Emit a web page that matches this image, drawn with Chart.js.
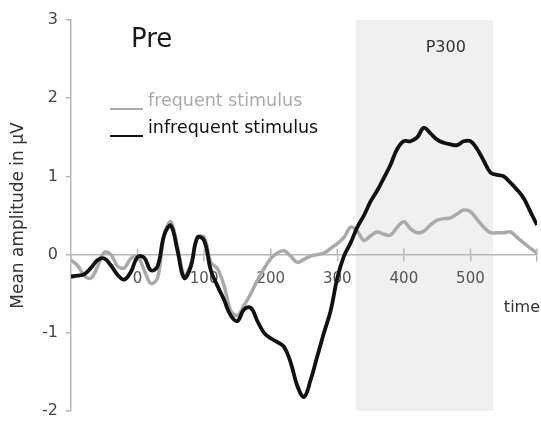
<!DOCTYPE html>
<html>
<head>
<meta charset="utf-8">
<script src="https://cdn.jsdelivr.net/npm/chart.js"></script>
<style>
  html, body { margin: 0; padding: 0; background: #fff; }
  #wrap { width: 541px; height: 423px; position: relative; }
</style>
</head>
<body>
<div id="wrap"><canvas id="c"></canvas></div>
<script>
// time in ms, every 10 ms from -100 to 600
var times = [];
for (var t = -100; t <= 600; t += 10) times.push(t);

var infrequent = [
    -0.28, -0.27, -0.25, -0.17, -0.07, -0.05, -0.14, -0.26, -0.32, -0.22,
    -0.03, -0.04, -0.20, -0.15, 0.25, 0.37, 0.05, -0.30, -0.15, 0.22,
    0.18, -0.20, -0.40, -0.58, -0.78, -0.85, -0.70, -0.68, -0.85, -1.00,
    -1.07, -1.12, -1.18, -1.38, -1.68, -1.82, -1.60, -1.30, -1.00, -0.72,
    -0.30, -0.02, 0.15, 0.35, 0.50, 0.68, 0.82, 0.98, 1.15, 1.35,
    1.45, 1.45, 1.50, 1.62, 1.55, 1.47, 1.43, 1.41, 1.40, 1.45,
    1.45, 1.35, 1.20, 1.05, 1.02, 1.00, 0.92, 0.83, 0.72, 0.55,
    0.38
];
var frequent = [
    -0.07, -0.14, -0.27, -0.30, -0.15, 0.03, 0.00, -0.15, -0.17, -0.05,
    -0.02, -0.20, -0.37, -0.30, 0.25, 0.42, 0.10, -0.27, -0.12, 0.22,
    0.22, -0.10, -0.18, -0.40, -0.72, -0.78, -0.65, -0.50, -0.33, -0.18,
    -0.05, 0.02, 0.05, -0.02, -0.10, -0.06, -0.02, 0.00, 0.02, 0.08,
    0.14, 0.22, 0.35, 0.30, 0.18, 0.24, 0.29, 0.26, 0.25, 0.35,
    0.42, 0.33, 0.28, 0.30, 0.38, 0.44, 0.46, 0.47, 0.52, 0.57,
    0.55, 0.45, 0.35, 0.28, 0.28, 0.28, 0.29, 0.22, 0.15, 0.08,
    0.02
];
var seriesNames = ['frequent stimulus', 'infrequent stimulus'];
var shownXTicks = [0, 100, 200, 300, 400, 500];
var p300Window = [328, 534];
var p300LabelAt = 463;

var FONT = '"DejaVu Sans", sans-serif';
var AXIS = '#b8b8b8';

function pts(vals) {
    return vals.map(function (v, i) { return {x: times[i], y: v}; });
}

var extras = {
    id: 'extras',
    beforeDraw: function (chart) {
        var ctx = chart.ctx, x = chart.scales.x, a = chart.chartArea;
        var l = x.getPixelForValue(p300Window[0]), r = x.getPixelForValue(p300Window[1]);
        ctx.save();
        ctx.fillStyle = '#f0f0f0';
        ctx.fillRect(l, a.top, r - l, a.bottom - a.top);
        ctx.restore();
    },
    afterDraw: function (chart) {
        var ctx = chart.ctx, x = chart.scales.x, y = chart.scales.y;
        var y0 = y.getPixelForValue(0);
        ctx.save();
        // upper half of x tick marks
        ctx.strokeStyle = AXIS;
        ctx.lineWidth = 1.5;
        shownXTicks.concat([600]).forEach(function (v) {
            var px = x.getPixelForValue(v);
            ctx.beginPath(); ctx.moveTo(px, y0 - 6); ctx.lineTo(px, y0); ctx.stroke();
        });
        ctx.fillStyle = '#1a1a1a';
        ctx.textBaseline = 'middle';
        ctx.font = '26px ' + FONT;
        ctx.textAlign = 'left';
        ctx.fillText('Pre', 131, 40);
        ctx.font = '16px ' + FONT;
        ctx.fillStyle = '#333';
        ctx.textAlign = 'center';
        ctx.fillText('P300', x.getPixelForValue(p300LabelAt), 48);
        ctx.textAlign = 'right';
        ctx.fillText('time', 540, 308);
        // legend
        var ds = chart.data.datasets;
        var rows = [{d: ds[1], y: 109}, {d: ds[0], y: 136}];
        ctx.textAlign = 'left';
        ctx.font = '17.5px ' + FONT;
        rows.forEach(function (row) {
            ctx.strokeStyle = row.d.borderColor;
            ctx.lineWidth = 2;
            ctx.beginPath(); ctx.moveTo(110, row.y); ctx.lineTo(143, row.y); ctx.stroke();
            ctx.fillStyle = row.d.borderColor;
            ctx.fillText(row.d.label, 148, row.y - 8);
        });
        ctx.restore();
    }
};

new Chart(document.getElementById('c'), {
    type: 'line',
    data: {
        datasets: [
            {label: seriesNames[1], data: pts(infrequent), borderColor: '#111', borderWidth: 3.8,
             tension: 0.4, pointRadius: 0, order: 0},
            {label: seriesNames[0], data: pts(frequent), borderColor: '#aaa', borderWidth: 3.5,
             tension: 0.35, pointRadius: 0, order: 1}
        ]
    },
    options: {
        responsive: true,
        maintainAspectRatio: false,
        animation: false,
        layout: {autoPadding: false, padding: {top: 20, right: 4, bottom: 12, left: 0}},
        plugins: {legend: {display: false}, tooltip: {enabled: false}},
        scales: {
            x: {
                type: 'linear',
                position: {y: 0},
                min: -100, max: 600,
                afterFit: function (s) { s.paddingLeft = 0; s.paddingRight = 0; },
                grid: {drawOnChartArea: false, tickLength: 6, color: AXIS, lineWidth: 1.5},
                border: {color: AXIS, width: 1.5},
                ticks: {
                    stepSize: 100, padding: 10, color: '#555', font: {size: 15, family: FONT},
                    maxRotation: 0,
                    callback: function (v) { return shownXTicks.indexOf(v) >= 0 ? String(v) : ''; }
                }
            },
            y: {
                min: -2, max: 3,
                afterFit: function (s) { s.width = 71; s.paddingTop = 0; s.paddingBottom = 0; },
                grid: {drawOnChartArea: false, tickLength: 5, color: AXIS, lineWidth: 1.5},
                border: {color: AXIS, width: 1.5},
                ticks: {stepSize: 1, padding: 8, color: '#444', font: {size: 16, family: FONT}},
                title: {display: true, text: 'Mean amplitude in µV', color: '#333',
                        font: {size: 17, family: FONT}, padding: {top: 8, bottom: 0}}
            }
        }
    },
    plugins: [extras]
});
</script>
</body>
</html>
